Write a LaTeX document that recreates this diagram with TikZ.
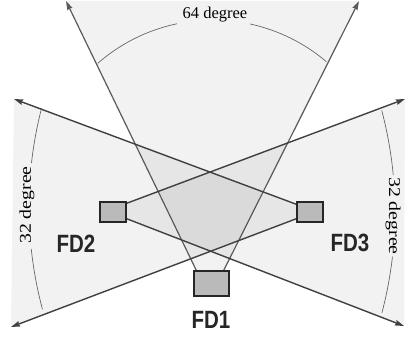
\documentclass[tikz,border=0pt]{standalone}
\usepackage{fontspec}
\setmainfont{Liberation Serif}
\setsansfont{Liberation Sans}
\usetikzlibrary{arrows.meta}
\begin{document}
\begin{tikzpicture}[x=1pt,y=-1pt,
  cone/.style={fill=black,fill opacity=0.052,draw=none},
  beam/.style={draw=black!75,line width=1.4pt,-{Stealth[length=9pt,width=5.5pt,inset=1pt]}},
  beamone/.style={draw=black!65,line width=1.2pt,-{Stealth[length=9pt,width=5.5pt,inset=1pt]}},
  dbox/.style={draw=black!85,line width=1.5pt,fill=black!27,inner sep=0pt},
  angarc/.style={draw=black!60,line width=0.7pt},
  anglab/.style={font=\fontsize{16.5}{18}\selectfont,inner sep=0pt},
  fdlab/.style={font=\sffamily\bfseries\fontsize{20.5}{22}\selectfont,inner sep=0pt,text=black!85}]
\useasboundingbox (0,0) rectangle (406,347);
% boxes
\node[dbox,minimum width=35pt,minimum height=25pt] (fd1) at (211.5,283.5) {};
\node[dbox,minimum width=26pt,minimum height=20pt] (fd2) at (113,212) {};
\node[dbox,minimum width=26pt,minimum height=20pt] (fd3) at (310,212) {};
% beam end points
\coordinate (t1) at (66,1);
\coordinate (t2) at (359,1);
\coordinate (l1) at (14,99);
\coordinate (l2) at (11,327);
\coordinate (r1) at (405,99);
\coordinate (r2) at (404,326);
\coordinate (s1a) at ([xshift=3pt]fd1.north west);
\coordinate (s1b) at ([xshift=-6pt]fd1.north east);
\coordinate (s2a) at ([yshift=-2pt]fd2.north east);
\coordinate (s2b) at ([yshift=4pt]fd2.south east);
\coordinate (s3a) at ([yshift=-3pt]fd3.north west);
\coordinate (s3b) at ([yshift=4pt]fd3.south west);
% cones
\fill[cone] (s1a) -- (t1) -- (t2) -- (s1b) -- cycle;
\fill[cone] (s2a) -- (r1) -- (r2) -- (s2b) -- cycle;
\fill[cone] (s3a) -- (l1) -- (l2) -- (s3b) -- cycle;
% beams
\draw[beamone] (s1a) -- (t1);
\draw[beamone] (s1b) -- (t2);
\draw[beam] (s2a) -- (r1);
\draw[beam] (s2b) -- (r2);
\draw[beam] (s3a) -- (l1);
\draw[beam] (s3b) -- (l2);
% redraw boxes on top
\node[dbox,minimum width=35pt,minimum height=25pt] at (fd1) {};
\node[dbox,minimum width=26pt,minimum height=20pt] at (fd2) {};
\node[dbox,minimum width=26pt,minimum height=20pt] at (fd3) {};
% angle arcs
\draw[angarc] ([shift={(-131.2:175)}]213,195) arc[start angle=-131.2,end angle=-101.9,radius=175];
\draw[angarc] ([shift={(-77.8:175)}]213,195) arc[start angle=-77.8,end angle=-49.6,radius=175];
\draw[angarc] ([shift={(194.5:395)}]424,207) arc[start angle=194.5,end angle=186.4,radius=395];
\draw[angarc] ([shift={(173.9:395)}]424,207) arc[start angle=173.9,end angle=165,radius=395];
\draw[angarc] ([shift={(-14.9:395)}]0,212) arc[start angle=-14.9,end angle=-5.4,radius=395];
\draw[angarc] ([shift={(6.5:395)}]0,212) arc[start angle=6.5,end angle=14.8,radius=395];
% labels
\node[anglab] (a64) at (215,15) {64 degree};
\node[anglab,rotate=90] (a32l) at (27,205) {\scalebox{1.2}[1]{32 degree}};
\node[anglab,rotate=-90] (a32r) at (393,216) {\scalebox{1.2}[1]{32 degree}};
\node[fdlab] (n1) at (211,320) {\scalebox{1}[1.22]{FD1}};
\node[fdlab] (n2) at (76,244) {\scalebox{1}[1.22]{FD2}};
\node[fdlab] (n3) at (350,243) {\scalebox{1}[1.22]{FD3}};
\end{tikzpicture}
\end{document}
